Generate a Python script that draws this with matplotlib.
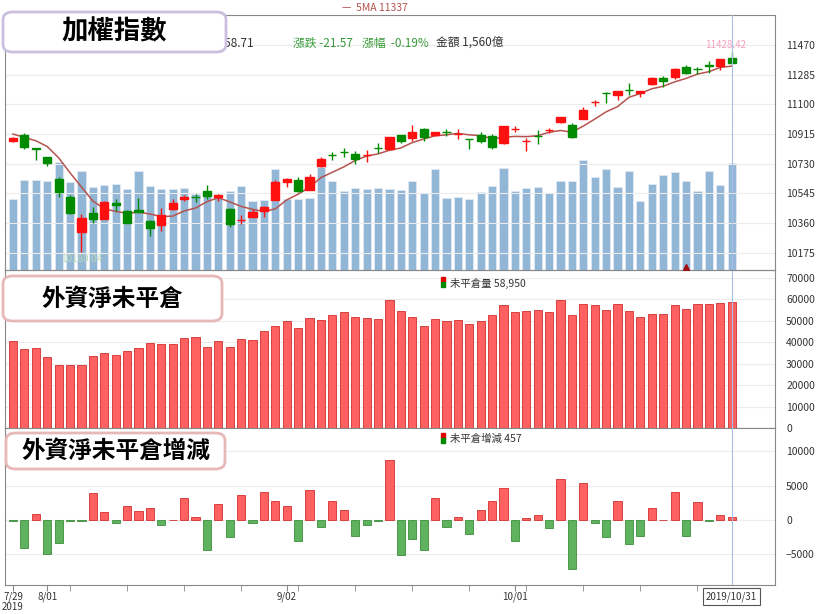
import matplotlib
matplotlib.use("Agg")
import matplotlib.pyplot as plt
import numpy as np
from matplotlib.patches import FancyBboxPatch, Rectangle

plt.rcParams['font.family'] = ['Noto Sans CJK TC', 'DejaVu Sans']

opens = [10872,10909,10825,10772,10635,10523,10305,10423,10386,10486,10436,10442,10374,10349,10448,10511,
         10525,10560,10523,10448,10378,10398,10436,10504,10617,10629,10567,10716,10787,10805,10791,10783,
         10830,10822,10909,10891,10947,10909,10930,10914,10886,10909,10903,10859,10945,10870,10905,10938,
         10990,10972,11009,11113,11173,11159,11192,11171,11227,11264,11271,11333,11322,11345,11339,11389]
highs = [10897,10922,10828,10775,10648,10535,10417,10461,10495,10511,10442,10517,10380,10455,10511,10535,
         10542,10598,10542,10455,10411,10448,10467,10629,10641,10648,10666,10772,10803,10828,10810,10816,
         10859,10897,10909,10972,10953,10930,10947,10947,10886,10928,10916,10968,10965,10891,10940,10953,
         11021,10984,11084,11127,11177,11185,11233,11185,11271,11277,11327,11345,11333,11370,11383,11428.42]
lows = [10866,10822,10754,10716,10523,10417,10180.04,10361,10383,10436,10358,10423,10280,10311,10442,10498,
        10492,10511,10498,10336,10355,10398,10398,10504,10585,10554,10567,10710,10754,10772,10729,10741,
        10797,10816,10859,10872,10872,10903,10903,10884,10822,10859,10822,10855,10928,10810,10853,10922,
        10984,10891,11009,11090,11109,11127,11159,11146,11221,11208,11258,11289,11289,11296,11314,11358]
closes = [10891,10835,10822,10735,10554,10423,10392,10386,10492,10473,10361,10430,10330,10411,10486,10523,
          10520,10529,10535,10355,10382,10430,10461,10617,10635,10560,10648,10760,10783,10801,10760,10787,
          10826,10897,10872,10928,10897,10928,10926,10918,10882,10872,10835,10965,10949,10874,10901,10942,
          11021,10897,11065,11117,11169,11183,11188,11183,11264,11246,11320,11296,11318,11339,11380,11358.71]
prev_closes = [10940, 10925, 10915, 10905]
volume = [1040,1310,1310,1300,1580,1280,1450,1210,1240,1260,1180,1450,1220,1180,1180,1190,
          1110,1140,1060,1150,1220,1010,1020,1470,1040,1040,1050,1500,1300,1150,1190,1180,
          1190,1180,1170,1300,1120,1470,1050,1070,1040,1140,1220,1480,1150,1190,1210,1120,
          1300,1300,1610,1350,1470,1210,1440,1010,1250,1390,1430,1300,1150,1450,1240,1560]
oi = [40500,37000,37500,33000,29500,29500,29500,33500,34800,34000,36000,37500,39500,39000,39000,42000,
      42500,38000,40500,37800,41300,41000,45300,47700,50000,46800,51300,50500,52700,54000,52000,51300,
      51000,59500,54700,52000,47800,51000,50000,50500,48400,50000,52500,57300,54000,54500,55000,54000,
      59500,52500,58000,57500,55000,58000,54500,52000,53300,53300,57500,55300,58000,58000,58500,58950]
oi_change = [-100,-4100,900,-4900,-3400,-100,-200,4000,1200,-400,2100,1300,1800,-700,0,3200,
             500,-4300,2300,-2500,3700,-500,4100,2700,2000,-3100,4400,-1000,2700,1500,-2300,-800,
             -200,8800,-5100,-2700,-4300,3200,-1000,500,-2100,1500,2700,4600,-3100,300,700,-1200,
             5900,-7200,5400,-400,-2500,2700,-3500,-2400,1700,0,4100,-2300,2600,-200,700,457]
date_ticks = [0, 3, 24, 44]
date_labels = ['7/29\n2019', '8/01', '9/02', '10/01']
last_label = '2019/10/31'

n = len(closes)
x = np.arange(n)
allc = np.array(prev_closes + closes, dtype=float)
ma5 = np.convolve(allc, np.ones(5) / 5, mode='valid')

W, H = 820, 614
fig = plt.figure(figsize=(8.2, 6.14), dpi=100)
L, R = 5 / W, 775 / W
def ax_at(top, bot):
    return fig.add_axes([L, 1 - bot / H, R - L, (bot - top) / H])
ax1 = ax_at(15, 270)
ax2 = ax_at(270, 428)
ax3 = ax_at(428, 585)
xl = (-0.7, 66.8)

red, green = '#ff1010', '#008a00'
grid_c = '#ececec'

# volume (twin) first, then fix ticks
axv = ax1.twinx()
axv.set_ylim(0, 3718)
axv.bar(x, volume, width=0.72, color='#92b6d6', edgecolor='#dfe9f3', lw=0.6, zorder=1)
axv.set_yticks([])
axv.set_xlim(*xl)
for s in axv.spines.values():
    s.set_visible(False)
ax1.set_zorder(axv.get_zorder() + 1)
ax1.patch.set_visible(False)

for ax in (ax1, ax2, ax3):
    ax.set_xlim(*xl)
    ax.yaxis.tick_right()
    ax.yaxis.set_label_position('right')
    ax.tick_params(axis='y', labelsize=7.5, colors='#333333', length=0, pad=8,
                   left=False, labelleft=False, right=True, labelright=True)
    ax.grid(axis='y', color=grid_c, lw=0.8)
    ax.set_axisbelow(True)
    for s in ax.spines.values():
        s.set_color('#888888')
    ax.axvline(63, color='#a8bfe8', lw=0.8, zorder=5)

ax1.set_ylim(10068, 11657)
ax1.set_yticks([10175, 10360, 10545, 10730, 10915, 11100, 11285, 11470])
ax1.set_xticks([])
ax1.plot(x, ma5, color='#b5534f', lw=1.1, zorder=3)
for i in range(n):
    up = closes[i] >= opens[i]
    c = red if up else green
    ax1.vlines(i, lows[i], highs[i], color=c, lw=1, zorder=4)
    lo, hi = min(opens[i], closes[i]), max(opens[i], closes[i])
    ax1.add_patch(Rectangle((i - 0.36, lo), 0.72, max(hi - lo, 4), color=c, zorder=4))
ax1.plot([59], [10085], marker='^', color='#a01010', ms=5, zorder=6)
ax1.text(6, 10115, '10180.04', color='#b8d8b8', fontsize=7, ha='center', zorder=6)
ax1.text(62.5, 11470, '11428.42', color='#f5a0c0', fontsize=7, ha='center', va='center', zorder=6)

# OI
ax2.set_ylim(0, 73700)
ax2.set_yticks(range(0, 70001, 10000))
ax2.set_xticks([])
ax2.bar(x, oi, width=0.72, color='#ff6060', edgecolor='#d03030', lw=0.6)

ax3.set_ylim(-9470, 13400)
ax3.set_yticks([-5000, 0, 5000, 10000])
cols = ['#ff6060' if v >= 0 else '#5fb35f' for v in oi_change]
ecs = ['#d03030' if v >= 0 else '#3d8d3d' for v in oi_change]
ax3.bar(x, oi_change, width=0.72, color=cols, edgecolor=ecs, lw=0.6)
ax3.set_xticks(date_ticks)
ax3.set_xticklabels(date_labels, fontsize=7, color='#333333', linespacing=1.0)
ax3.set_xticks(list(range(0, 64, 5)), minor=True)
ax3.tick_params(axis='x', length=4, color='#888888', which='both', pad=1)
ax3.text(63, -10400, last_label, fontsize=7, ha='center', va='top', color='#333333',
         bbox=dict(boxstyle='square,pad=0.3', fc='white', ec='#555555', lw=0.8))

# header texts
fig.text(375 / W, 1 - 8 / H, '—  5MA 11337', color='#b5534f', fontsize=7.5, ha='center', va='center')
fy = 1 - 43 / H
fig.text(190 / W, fy, '收 11358.71', fontsize=8.5, color='#333333', va='center')
fig.text(293 / W, fy, '漲跌 -21.57', fontsize=8.5, color='#3a9a3a', va='center')
fig.text(362 / W, fy, '漲幅  -0.19%', fontsize=8.5, color='#3a9a3a', va='center')
fig.text(436 / W, fy, '金額 1,560億', fontsize=8.5, color='#333333', va='center')

def legend_icon(px, py, text):
    fig.patches.append(Rectangle((px / W, 1 - (py) / H), 4 / W, 5 / H, color='#e00000', transform=fig.transFigure))
    fig.patches.append(Rectangle((px / W, 1 - (py + 5) / H), 4 / W, 5 / H, color='#008a00', transform=fig.transFigure))
    fig.text((px + 9) / W, 1 - (py + 1) / H, text, fontsize=7.5, color='#333333', va='center')
legend_icon(441, 282, '未平倉量 58,950')
legend_icon(441, 438, '未平倉增減 457')

def title_box(x0, y0, x1, y1, ec, text, fs):
    fig.patches.append(FancyBboxPatch((x0 / W, 1 - y1 / H), (x1 - x0) / W, (y1 - y0) / H,
                                      boxstyle='round,pad=0,rounding_size=0.012', fc='white', ec=ec,
                                      lw=2, transform=fig.transFigure, zorder=10))
    fig.text((x0 + x1) / 2 / W, 1 - (y0 + y1) / 2 / H, text, fontsize=fs, fontweight='bold',
             ha='center', va='center', zorder=11, color='black')
title_box(3, 12, 226, 52, '#cbbfe0', '加權指數', 19)
title_box(3, 276, 222, 321, '#e8b8b8', '外資淨未平倉', 17)
title_box(6, 433, 225, 469, '#e8b8b8', '外資淨未平倉增減', 17)

fig.savefig('out.png', dpi=100)
